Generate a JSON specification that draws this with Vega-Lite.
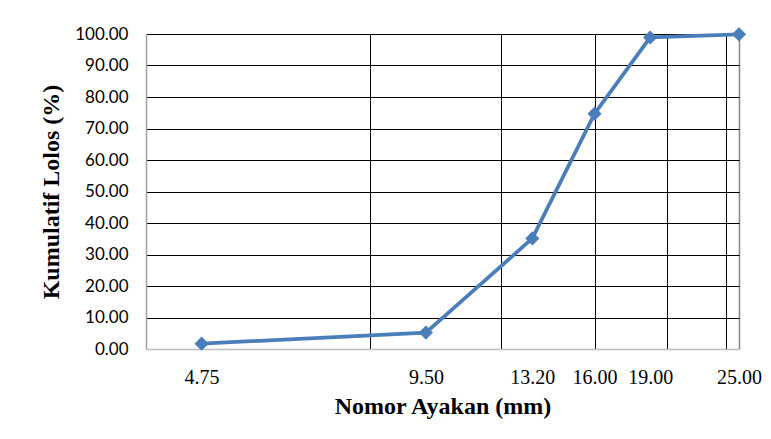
{
  "$schema": "https://vega.github.io/schema/vega-lite/v6.json",
  "width": 593,
  "height": 315,
  "autosize": {"type": "none"},
  "padding": {"left": 146, "top": 34, "right": 32, "bottom": 90},
  "background": "#ffffff",
  "data": {
    "values": [
      {"ayakan": 4.75, "lolos": 1.7},
      {"ayakan": 9.5, "lolos": 5.2},
      {"ayakan": 13.2, "lolos": 35.1},
      {"ayakan": 16.0, "lolos": 74.7},
      {"ayakan": 19.0, "lolos": 98.9},
      {"ayakan": 25.0, "lolos": 99.9}
    ]
  },
  "encoding": {
    "x": {
      "field": "ayakan",
      "type": "quantitative",
      "scale": {"type": "log", "domain": [4, 25], "nice": false},
      "axis": {
        "title": "Nomor Ayakan (mm)",
        "values": [4.75, 8, 9.5, 12, 13.2, 16, 19, 20, 24, 25],
        "labelExpr": "indexof([8, 12, 20, 24], datum.value) >= 0 ? '' : format(datum.value, '.2f')",
        "labelOverlap": false,
        "labelFlush": false,
        "labelFont": "Liberation Serif",
        "labelFontSize": 20,
        "labelColor": "#000000",
        "labelPadding": 18,
        "ticks": false,
        "domainColor": "#bdbdbd",
        "domainWidth": 1.5,
        "grid": true,
        "gridColor": {"condition": {"test": "datum.value == 25", "value": "#868686"}, "value": "#000000"},
        "gridWidth": {"condition": {"test": "datum.value == 25", "value": 1.5}, "value": 1},
        "gridOpacity": {"condition": {"test": "indexof([4.75, 9.5, 13.2, 19], datum.value) >= 0", "value": 0}, "value": 1},
        "titleFont": "Liberation Serif",
        "titleFontSize": 24,
        "titleFontWeight": "bold",
        "titleColor": "#000000",
        "titlePadding": 7
      }
    },
    "y": {
      "field": "lolos",
      "type": "quantitative",
      "scale": {"domain": [0, 100], "nice": false},
      "axis": {
        "title": "Kumulatif Lolos (%)",
        "values": [0, 10, 20, 30, 40, 50, 60, 70, 80, 90, 100],
        "format": ".2f",
        "labelFont": "Lato",
        "labelFontSize": 17,
        "labelColor": "#000000",
        "labelPadding": 18,
        "ticks": false,
        "domainColor": "#a0a0a0",
        "domainWidth": 1.5,
        "grid": true,
        "gridColor": "#000000",
        "gridWidth": 1,
        "gridOpacity": {"condition": {"test": "datum.value == 0", "value": 0}, "value": 1},
        "titleFont": "Liberation Serif",
        "titleFontSize": 24,
        "titleFontWeight": "bold",
        "titleColor": "#000000",
        "titlePadding": 11
      }
    }
  },
  "layer": [
    {
      "mark": {"type": "line", "color": "#4a7ebb", "strokeWidth": 3.75, "clip": false}
    },
    {
      "mark": {"type": "point", "shape": "diamond", "filled": true, "size": 200, "color": "#4a7ebb", "opacity": 1, "clip": false}
    }
  ],
  "config": {
    "view": {"stroke": null}
  }
}
